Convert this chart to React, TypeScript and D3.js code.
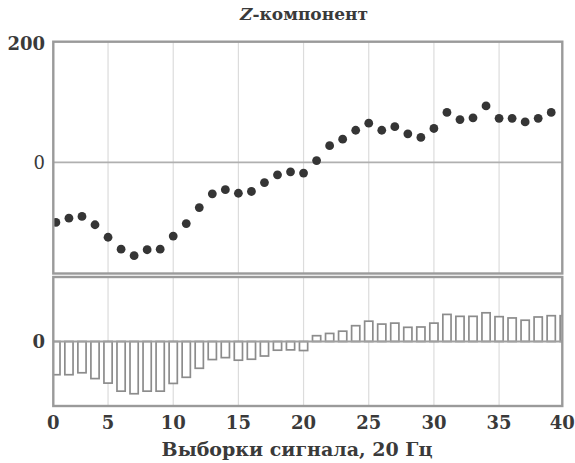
import React from "react";
import * as d3 from "d3";

// Sample numbers (categories)
const sampleIndex = [
  1, 2, 3, 4, 5, 6, 7, 8, 9, 10, 11, 12, 13, 14, 15, 16, 17, 18, 19, 20,
  21, 22, 23, 24, 25, 26, 27, 28, 29, 30, 31, 32, 33, 34, 35, 36, 37, 38, 39, 40,
];

// Z-component samples (upper panel, dots)
const dotValues = [
  -101, -94, -91, -105, -126, -146, -157, -147, -146, -124,
  -103, -76, -53, -46, -52, -49, -34, -21, -16, -18,
  3, 28, 39, 54, 66, 54, 60, 48, 42, 57,
  84, 72, 75, 95, 74, 74, 68, 74, 84,
];

// Z-component samples (lower panel, bars)
const barValues = [
  -103, -103, -97, -115, -129, -154, -162, -154, -154, -130,
  -111, -83, -56, -50, -58, -55, -45, -27, -26, -28,
  18, 25, 32, 49, 63, 54, 57, 44, 45, 57,
  84, 78, 78, 89, 77, 73, 66, 76, 80, 80,
];

const xTickValues = [0, 5, 10, 15, 20, 25, 30, 35, 40];
const topYTicks = [0, 200];
const bottomYTicks = [0];

const title = "компонент";
const titleLetter = "Z";
const xAxisTitle = "Выборки сигнала, 20 Гц";

const W = 575;
const H = 463;
const LEFT = 53.3;
const RIGHT = 562.3;
const TOP_Y0 = 41.7;
const TOP_Y1 = 273.5;
const BOT_Y0 = 277;
const BOT_Y1 = 406;

const FONT = "'DejaVu Serif', 'Liberation Serif', serif";
const TEXT = "#3a3a3a";

export default function App() {
  const xDomain: [number, number] = [0.8, 39.85];
  const x = d3.scaleLinear().domain(xDomain).range([LEFT, RIGHT]);
  const yTop = d3.scaleLinear().domain([-187, 203]).range([TOP_Y1, TOP_Y0]);
  const yBot = d3.scaleLinear().domain([-200, 200]).range([BOT_Y1, BOT_Y0]);
  const clampX = (v: number) => Math.max(xDomain[0], Math.min(xDomain[1], v));
  const barW = 8.2;

  const innerTicks = xTickValues.filter((v) => v > xDomain[0] && v < xDomain[1]);

  return (
    <svg
      width={W}
      height={H}
      style={{ position: "absolute", left: 0, top: 0, background: "#fff" }}
      fontFamily={FONT}
    >
      <defs>
        <clipPath id="clipTop">
          <rect x={LEFT} y={TOP_Y0} width={RIGHT - LEFT} height={TOP_Y1 - TOP_Y0} />
        </clipPath>
        <clipPath id="clipBot">
          <rect x={LEFT} y={BOT_Y0} width={RIGHT - LEFT} height={BOT_Y1 - BOT_Y0} />
        </clipPath>
      </defs>

      {/* Title */}
      <text x={304} y={20} textAnchor="middle" fontSize={17} fontWeight="bold" fill={TEXT}>
        <tspan fontStyle="italic">{titleLetter}</tspan>
        <tspan>{"-" + title}</tspan>
      </text>

      {/* Top panel grid */}
      {innerTicks.map((v) => (
        <line key={"gt" + v} x1={x(v)} x2={x(v)} y1={TOP_Y0} y2={TOP_Y1} stroke="#dcdcdc" strokeWidth={1.2} />
      ))}
      {topYTicks.filter((v) => v === 0).map((v) => (
        <line key={"ht" + v} x1={LEFT} x2={RIGHT} y1={yTop(v)} y2={yTop(v)} stroke="#b0b0b0" strokeWidth={1.6} />
      ))}
      <g clipPath="url(#clipTop)">
        {dotValues.map((v, i) => {
          const s = sampleIndex[i];
          if (s > xDomain[1]) return null;
          return <circle key={"d" + i} cx={x(s)} cy={yTop(v)} r={4.4} fill="#353535" />;
        })}
      </g>
      <rect x={LEFT} y={TOP_Y0} width={RIGHT - LEFT} height={TOP_Y1 - TOP_Y0} fill="none" stroke="#9a9a9a" strokeWidth={2.4} />
      {topYTicks.map((v) => (
        <text key={"yt" + v} x={45} y={yTop(v)} dy="0.35em" textAnchor="end" fontSize={18} fontWeight={v === 0 ? "normal" : "bold"} fill={TEXT}>
          {v}
        </text>
      ))}

      {/* Bottom panel grid */}
      {innerTicks.map((v) => (
        <line key={"gb" + v} x1={x(v)} x2={x(v)} y1={BOT_Y0} y2={BOT_Y1} stroke="#dcdcdc" strokeWidth={1.2} />
      ))}
      <g clipPath="url(#clipBot)">
        {barValues.map((v, i) => {
          const s = sampleIndex[i];
          const y0 = yBot(0);
          const y1 = yBot(v);
          return (
            <rect
              key={"b" + i}
              x={x(s) - barW / 2}
              y={Math.min(y0, y1)}
              width={barW}
              height={Math.abs(y1 - y0)}
              fill="#fff"
              stroke="#8c8c8c"
              strokeWidth={1.7}
            />
          );
        })}
      </g>
      {bottomYTicks.map((v) => (
        <line key={"hb" + v} x1={LEFT} x2={RIGHT} y1={yBot(v)} y2={yBot(v)} stroke="#a0a0a0" strokeWidth={1.8} />
      ))}
      <rect x={LEFT} y={BOT_Y0} width={RIGHT - LEFT} height={BOT_Y1 - BOT_Y0} fill="none" stroke="#9a9a9a" strokeWidth={2.4} />
      {bottomYTicks.map((v) => (
        <text key={"yb" + v} x={45} y={yBot(v)} dy="0.35em" textAnchor="end" fontSize={18} fontWeight="bold" fill={TEXT}>
          {v}
        </text>
      ))}

      {/* X tick labels */}
      {xTickValues.map((v) => (
        <text key={"xt" + v} x={x(clampX(v))} y={423} dy="0.35em" textAnchor="middle" fontSize={18} fontWeight="bold" fill={TEXT}>
          {v}
        </text>
      ))}
      <text x={297} y={449} dy="0.35em" textAnchor="middle" fontSize={19} fontWeight="bold" fill={TEXT}>
        {xAxisTitle}
      </text>
    </svg>
  );
}
